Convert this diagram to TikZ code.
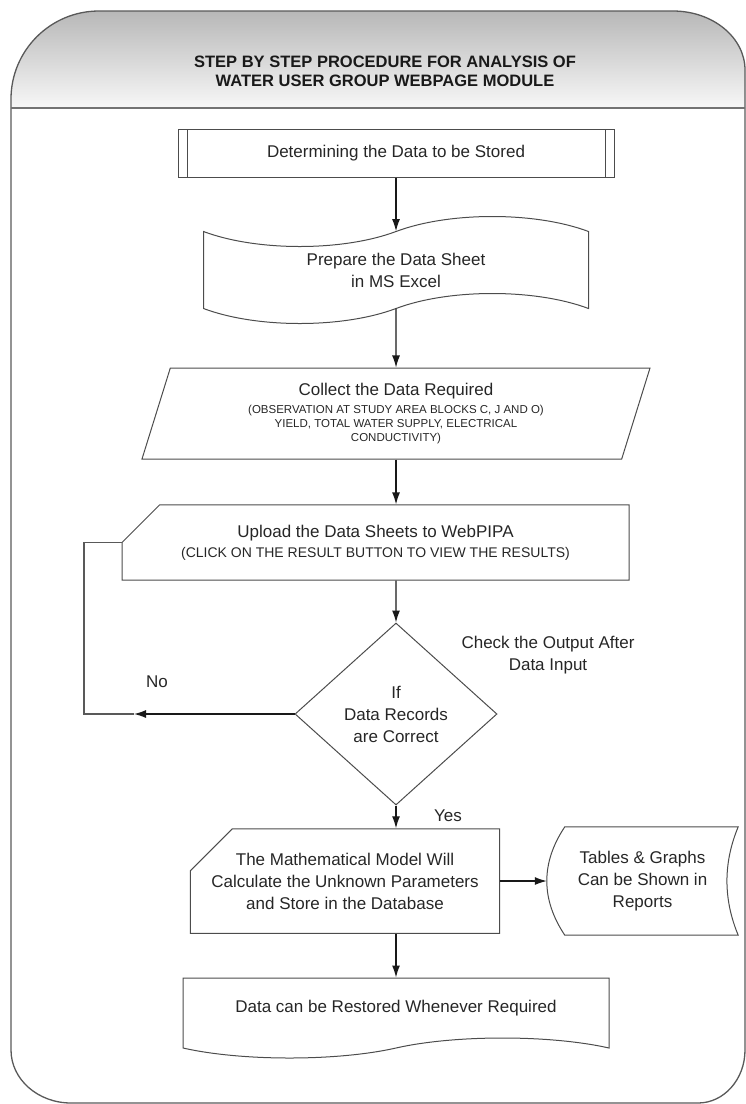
\documentclass[tikz,border=0pt]{standalone}
\usepackage{fontspec}
\setmainfont{Liberation Sans}
\usetikzlibrary{arrows.meta,shapes.geometric,shapes.symbols,shapes.misc}

\begin{document}
\begin{tikzpicture}[x=1pt,y=-1pt,
    >={Latex[length=12pt,width=8pt]},
    txt/.style={text=black!85, font=\fontsize{17}{22}\selectfont, align=center},
    box/.style={draw=black!70, line width=1pt, txt, inner sep=0pt},
    flow/.style={->, line width=1.2pt, black!90},
    cardbox/.style={box, chamfered rectangle, chamfered rectangle corners=north west,
        chamfered rectangle xsep=21pt, chamfered rectangle ysep=21pt},
    procbox/.style={box, rectangle, path picture={
        \draw[black!70, line width=1pt]
          ([xshift=9pt]path picture bounding box.north west) -- ([xshift=9pt]path picture bounding box.south west)
          ([xshift=-9pt]path picture bounding box.north east) -- ([xshift=-9pt]path picture bounding box.south east);}}]
  \useasboundingbox (0,0) rectangle (746,1104);
  \shade[top color=black!28, bottom color=black!3] (11,108) -- (11,99) .. controls (11,50.4) and (50.4,11) .. (99,11)
      -- (673,11) .. controls (712.7,11) and (745,37.4) .. (745,70) -- (745,108) -- cycle;
  \draw[black!65, line width=1.3pt] (11,1050) -- (11,99) .. controls (11,50.4) and (50.4,11) .. (99,11)
      -- (673,11) .. controls (712.7,11) and (745,37.4) .. (745,70) -- (745,1050)
      .. controls (745,1079.3) and (724,1103) .. (698,1103) -- (71,1103)
      .. controls (37.9,1103) and (11,1079.3) .. (11,1050);
  \draw[black!55, line width=2pt] (11,108) -- (745,108);
  \node[txt, text=black!90, font=\bfseries\fontsize{16.5}{19}\selectfont] (title) at (385,71)
      {STEP BY STEP PROCEDURE FOR ANALYSIS OF\\WATER USER GROUP WEBPAGE MODULE};

  \node[procbox, minimum width=436pt, minimum height=48pt] (det) at (396,153) {Determining the Data to be Stored};
  \node[box, tape, minimum width=385pt, minimum height=107pt, tape bend height=30pt] (prep) at (396,270)
      {Prepare the Data Sheet\\in MS Excel};
  \node[box, trapezium, trapezium left angle=65, trapezium right angle=115, trapezium stretches body,
      minimum width=508pt, minimum height=91pt] (coll) at (396,413.5)
      {Collect the Data Required\\[-4pt]
       \fontsize{11.5}{14}\selectfont (OBSERVATION AT STUDY AREA BLOCKS C, J AND O)\\[-8pt]
       \fontsize{11.5}{14}\selectfont YIELD, TOTAL WATER SUPPLY, ELECTRICAL\\[-8pt]
       \fontsize{11.5}{14}\selectfont CONDUCTIVITY)};
  \node[cardbox, inner ysep=-1pt, minimum width=507pt] (upl) at (375.5,542.5)
      {Upload the Data Sheets to WebPIPA\\[-2pt]
       \fontsize{14}{17}\selectfont (CLICK ON THE RESULT BUTTON TO VIEW THE RESULTS)};
  \node[box, diamond, minimum width=202pt, minimum height=182pt] (dec) at (396,714)
      {If\\Data Records\\are Correct};
  \node[cardbox, inner ysep=3pt, minimum width=304pt] (math) at (345,881)
      {The Mathematical Model Will\\Calculate the Unknown Parameters\\and Store in the Database};
  \node[txt, minimum width=191pt, minimum height=108pt, inner sep=0pt] (tab) at (642.5,881)
      {Tables \& Graphs\\Can be Shown in\\Reports};
  \draw[black!70, line width=1pt] ([xshift=18pt]tab.north west) .. controls +(-24,36) and +(-24,-36) .. ([xshift=18pt]tab.south west)
      -- (tab.south east) .. controls +(-15,-36) and +(-15,36) .. (tab.north east) -- cycle;
  \node[box, tape, tape bend top=none, minimum width=426pt, minimum height=80pt, tape bend height=20pt] (rest)
      at (396,1008) {Data can be Restored Whenever Required};

  \node[txt] (no) at (157,682) {No};
  \node[txt] (yes) at (448,816) {Yes};
  \node[txt] (chk) at (548,655) {Check the Output After\\Data Input};

  \draw[flow] (det.south) -- (prep.north);
  \draw[flow] (prep.south) -- (coll.north);
  \draw[flow] (coll.south) -- (coll.south |- upl.north);
  \draw[flow] (coll.south |- upl.south) -- (dec.north);
  \draw[flow] (dec.south) -- (dec.south |- math.north);
  \draw[flow] (dec.south |- math.south) -- (dec.south |- rest.north);
  \draw[flow] (math.east) -- (tab.west);
  \coordinate (noback) at (134,714);
  \draw[flow] (dec.west) -- (noback);
  \draw[black!65, line width=1.2pt] (noback) -- (84,714) |- (upl.west);
\end{tikzpicture}
\end{document}
